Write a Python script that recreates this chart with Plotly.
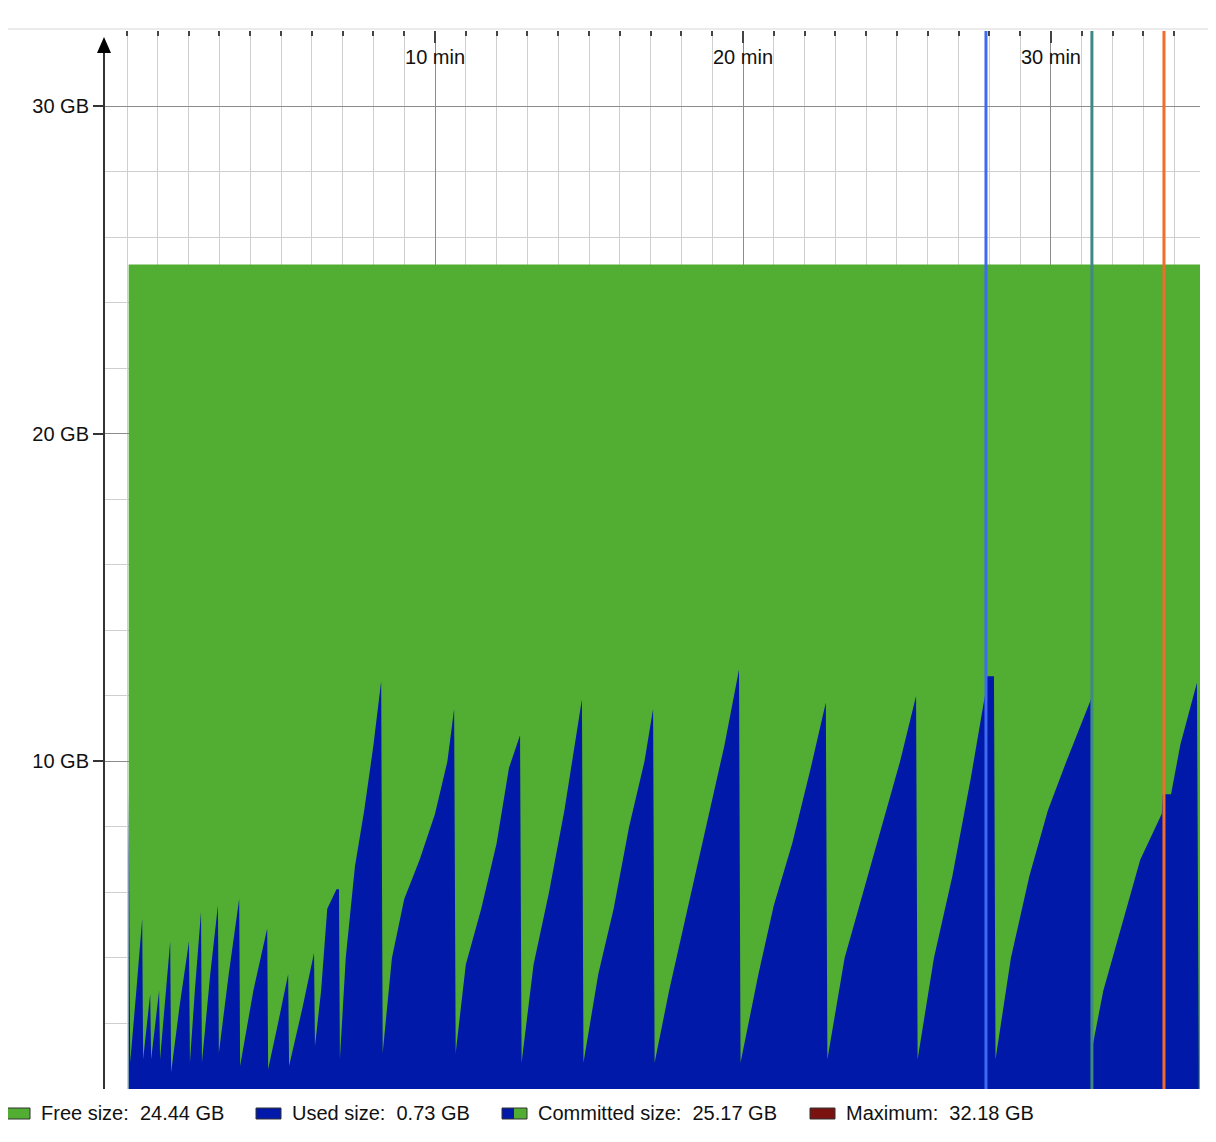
import plotly.graph_objects as go

# used heap (GB) over time (minutes)
used_t = [0.05, 0.1, 0.3, 0.49, 0.52, 0.65, 0.75, 0.78, 0.92, 1.04, 1.07, 1.25, 1.40, 1.43,
          1.7, 2.01, 2.04, 2.2, 2.40, 2.43, 2.7, 2.95, 2.98, 3.3, 3.64, 3.67, 4.1, 4.55, 4.58,
          4.9, 5.23, 5.26, 5.7, 6.07, 6.1, 6.3, 6.5, 6.8, 6.88, 6.91, 7.1, 7.4, 7.7, 8.0, 8.25,
          8.3, 8.6, 9.0, 9.5, 10.0, 10.4, 10.62, 10.67, 11.0, 11.5, 12.0, 12.4, 12.76, 12.81,
          13.2, 13.7, 14.2, 14.77, 14.82, 15.3, 15.8, 16.3, 16.8, 17.08, 17.13, 17.6, 18.2,
          18.8, 19.4, 19.87, 19.92, 20.5, 21.0, 21.6, 22.2, 22.69, 22.74, 23.3, 23.9, 24.5,
          25.1, 25.62, 25.67, 26.2, 26.8, 27.4, 27.89, 27.92, 28.15, 28.2, 28.7, 29.3, 29.9,
          30.5, 31.3, 31.35, 31.7, 32.3, 32.9, 33.6, 33.63, 33.9, 34.2, 34.74, 34.8]
used_gb = [9.1, 0.8, 3.0, 5.2, 0.9, 2.0, 2.9, 0.9, 2.0, 3.0, 0.9, 3.0, 4.5, 0.5,
           2.5, 4.5, 0.8, 3.0, 5.4, 0.8, 3.5, 5.6, 1.1, 3.5, 5.8, 0.7, 3.0, 4.9, 0.6,
           2.0, 3.5, 0.7, 2.5, 4.15, 1.3, 3.0, 5.5, 6.1, 6.1, 0.9, 4.0, 6.8, 8.5, 10.5, 12.45,
           1.1, 4.0, 5.8, 7.0, 8.4, 10.0, 11.6, 1.1, 3.8, 5.5, 7.5, 9.8, 10.8, 0.8,
           3.8, 6.0, 8.5, 11.9, 0.8, 3.5, 5.5, 8.0, 10.0, 11.6, 0.8, 3.0, 5.5,
           8.0, 10.5, 12.8, 0.8, 3.5, 5.6, 7.5, 9.8, 11.8, 0.9, 4.0, 6.0, 8.0,
           10.0, 12.0, 0.9, 4.0, 6.5, 9.5, 12.2, 12.6, 12.6, 0.9, 4.0, 6.5, 8.5,
           10.0, 11.9, 1.3, 3.0, 5.0, 7.0, 8.4, 9.0, 9.0, 10.5, 12.4, 0.8]

committed_t = [0.05, 34.84]
committed_gb = [25.17, 25.17]

marker_t = [27.89, 31.33, 33.67]
marker_colors = ["#3d6cf2", "#3e8a82", "#f06d2c"]

legend_labels = ["Free size:  24.44 GB", "Used size:  0.73 GB",
                 "Committed size:  25.17 GB", "Maximum:  32.18 GB"]

# page body has an 8px margin, so the figure sits at (8, 8) in the window
OFF = 8
W, H = 1200, 1126
L, R, T, B = 96, 8, 23, 45
GREEN = "#52ad33"
BLUE = "#0019a8"


def px(x):
    return (x - OFF - L) / (W - L - R)


def py(y):
    return (H - B - (y - OFF)) / (H - T - B)


fig = go.Figure()
fig.add_trace(go.Scatter(x=committed_t, y=committed_gb, mode="lines", fill="tozeroy",
                         fillcolor=GREEN, line=dict(width=0), hoverinfo="skip"))
fig.add_trace(go.Scatter(x=used_t, y=used_gb, mode="lines", fill="tozeroy",
                         fillcolor=BLUE, line=dict(width=0, color=BLUE)))

for t, c in zip(marker_t, marker_colors):
    fig.add_shape(type="line", x0=t, x1=t, y0=0, y1=1, xref="x", yref="paper",
                  line=dict(color=c, width=3))

shapes = [
    # top separator
    dict(type="line", xref="paper", yref="paper", x0=px(0), x1=px(1216), y0=py(29), y1=py(29),
         line=dict(color="#e4e4e4", width=1.5)),
    # y axis with arrow
    dict(type="line", xref="paper", yref="paper", x0=0, x1=0, y0=0, y1=py(50),
         line=dict(color="#333", width=2)),
    dict(type="path", xref="paper", yref="paper",
         path=f"M {px(97)},{py(53)} L {px(111)},{py(53)} L {px(104)},{py(37)} Z",
         fillcolor="black", line=dict(width=0)),
]
for s in shapes:
    fig.add_shape(**s)

# legend
leg_boxes = [(5, GREEN, None), (256, BLUE, None), (502, BLUE, GREEN), (810, "#7a1210", None)]
for (x0, c1, c2), lab in zip(leg_boxes, legend_labels):
    if c2 is None:
        fig.add_shape(type="rect", xref="paper", yref="paper", x0=px(x0), x1=px(x0 + 25),
                      y0=py(1119), y1=py(1108), fillcolor=c1, line=dict(color="#333", width=1))
    else:
        fig.add_shape(type="rect", xref="paper", yref="paper", x0=px(x0), x1=px(x0 + 12),
                      y0=py(1119), y1=py(1108), fillcolor=c1, line=dict(width=0))
        fig.add_shape(type="rect", xref="paper", yref="paper", x0=px(x0 + 12), x1=px(x0 + 25),
                      y0=py(1119), y1=py(1108), fillcolor=c2, line=dict(width=0))
        fig.add_shape(type="rect", xref="paper", yref="paper", x0=px(x0), x1=px(x0 + 25),
                      y0=py(1119), y1=py(1108), line=dict(color="#333", width=1))
    fig.add_annotation(text=lab, xref="paper", yref="paper", x=px(x0 + 34), y=py(1113),
                       xanchor="left", yanchor="middle", showarrow=False,
                       font=dict(size=20, color="#111"))

fig.update_layout(
    width=W, height=H, margin=dict(l=L, r=R, t=T, b=B),
    plot_bgcolor="white", paper_bgcolor="white", showlegend=False,
    font=dict(family="Liberation Sans, Arial, sans-serif", size=20, color="#111"),
    xaxis=dict(range=[-0.75, 34.84], side="top",
               tickvals=[10, 20, 30], ticktext=["10 min", "20 min", "30 min"],
               ticks="inside", ticklen=12, tickcolor="#444", tickwidth=1.5,
               ticklabelposition="inside", ticklabelstandoff=8, tickfont=dict(color="#111"),
               showgrid=True, gridcolor="#8c8c8c", gridwidth=1,
               minor=dict(dtick=1, tick0=0, ticks="inside", ticklen=5, tickcolor="#444",
                          showgrid=True, gridcolor="#cfcfcf"),
               zeroline=False, showline=False, fixedrange=True),
    yaxis=dict(range=[0, 32.3], tickvals=[10, 20, 30], ticktext=["10 GB", "20 GB", "30 GB"],
               ticks="outside", ticklen=10, tickcolor="#333", tickwidth=1.5,
               tickfont=dict(color="#111"),
               showgrid=True, gridcolor="#8c8c8c", gridwidth=1,
               minor=dict(dtick=2, tick0=0, showgrid=True, gridcolor="#cfcfcf"),
               zeroline=False, showline=False, fixedrange=True),
)

fig.write_html("out.html")
